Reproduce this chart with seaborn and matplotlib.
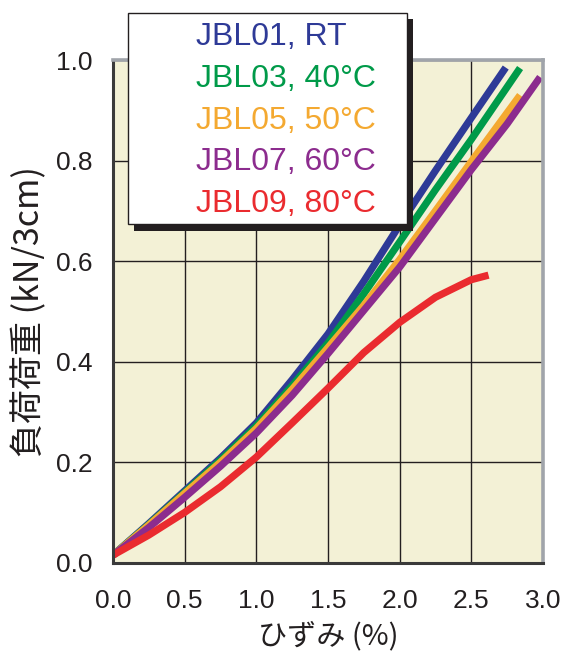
import matplotlib
matplotlib.use("Agg")
import matplotlib.pyplot as plt
from matplotlib.patches import Rectangle
import numpy as np
import pandas as pd
import seaborn as sns

# Load–strain curves for each specimen / test temperature
labels = ["JBL01, RT", "JBL03, 40°C", "JBL05, 50°C", "JBL07, 60°C", "JBL09, 80°C"]
colors = ["#2E3A97", "#009A49", "#F4A931", "#8C2C8E", "#EA2B2F"]

strain_01 = [0.0, 0.25, 0.5, 0.75, 1.0, 1.25, 1.5, 1.75, 2.0, 2.25, 2.5, 2.74]
load_01 = [0.015, 0.078, 0.143, 0.208, 0.278, 0.364, 0.455, 0.560, 0.672, 0.780, 0.885, 0.985]

strain_03 = [0.0, 0.25, 0.5, 0.75, 1.0, 1.25, 1.5, 1.75, 2.0, 2.25, 2.5, 2.84]
load_03 = [0.015, 0.076, 0.140, 0.204, 0.272, 0.352, 0.437, 0.535, 0.638, 0.742, 0.842, 0.984]

strain_05 = [0.0, 0.25, 0.5, 0.75, 1.0, 1.25, 1.5, 1.75, 2.0, 2.25, 2.5, 2.84]
load_05 = [0.015, 0.075, 0.138, 0.200, 0.267, 0.345, 0.428, 0.512, 0.603, 0.700, 0.798, 0.930]

strain_07 = [0.0, 0.25, 0.5, 0.75, 1.0, 1.25, 1.5, 1.75, 2.0, 2.25, 2.5, 2.75, 2.98]
load_07 = [0.015, 0.070, 0.130, 0.192, 0.258, 0.333, 0.416, 0.502, 0.588, 0.685, 0.782, 0.873, 0.966]

strain_09 = [0.0, 0.25, 0.5, 0.75, 1.0, 1.25, 1.5, 1.75, 2.0, 2.25, 2.5, 2.62]
load_09 = [0.015, 0.055, 0.100, 0.151, 0.210, 0.278, 0.347, 0.418, 0.478, 0.528, 0.563, 0.572]

x_ticks = [0.0, 0.5, 1.0, 1.5, 2.0, 2.5, 3.0]
y_ticks = [0.0, 0.2, 0.4, 0.6, 0.8, 1.0]
x_label = "ひずみ (%)"
y_label = "負荷荷重 (kN/3cm)"

series = [(strain_01, load_01), (strain_03, load_03), (strain_05, load_05),
          (strain_07, load_07), (strain_09, load_09)]
frames = []
for name, (xs, ys) in zip(labels, series):
    frames.append(pd.DataFrame({"strain": xs, "load": ys, "specimen": name}))
df = pd.concat(frames, ignore_index=True)

sns.set_theme(style="white")
plt.rcParams["font.family"] = ["Liberation Sans", "DejaVu Sans"]

fig = plt.figure(figsize=(5.62, 6.54), dpi=100)
ax = fig.add_axes([113 / 562, 1 - 562.7 / 654, 430 / 562, 502.7 / 654])
ax.set_facecolor("#F3F1D6")

sns.lineplot(data=df, x="strain", y="load", hue="specimen", hue_order=labels,
             palette=colors, sort=False, estimator=None, linewidth=5.2,
             legend=False, ax=ax)
for ln in ax.lines:
    ln.set_solid_capstyle("butt")
    ln.set_solid_joinstyle("round")

ax.set_xlim(0, 3.0)
ax.set_ylim(0, 1.0)
ax.set_xticks(x_ticks)
ax.set_yticks(y_ticks)
ax.set_xticklabels([f"{v:.1f}" for v in x_ticks])
ax.set_yticklabels([f"{v:.1f}" for v in y_ticks])
tick_font = ["Liberation Sans Narrow", "Liberation Sans", "DejaVu Sans"]
for t in ax.get_xticklabels() + ax.get_yticklabels():
    t.set_fontfamily(tick_font)
    t.set_fontsize(19)
    t.set_color("#231F20")
ax.tick_params(axis="x", length=0, pad=19)
ax.tick_params(axis="y", length=0, pad=15)

ax.grid(True, color="#231F20", linewidth=1.0)
ax.set_axisbelow(True)

for side in ("left", "bottom"):
    ax.spines[side].set_color("#3A3A3A")
    ax.spines[side].set_linewidth(2.2)
for side in ("top", "right"):
    ax.spines[side].set_color("#A0A4AA")
    ax.spines[side].set_linewidth(2.6)

cjk = ["Noto Sans CJK JP", "DejaVu Sans"]
ax.set_xlabel(x_label, fontsize=21, family=cjk, color="#231F20", labelpad=6)
ax.set_ylabel(y_label, fontsize=24.5, family=cjk, color="#231F20", labelpad=6)

# Legend panel with a solid drop shadow
bx0, by_top, bw, bh = 127.5, 12.5, 279, 211.5
shadow = Rectangle(((bx0 + 6.5) / 562, 1 - (by_top + bh + 6.5) / 654), bw / 562, bh / 654,
                   transform=fig.transFigure, facecolor="#231F20", edgecolor="none", zorder=5)
box = Rectangle((bx0 / 562, 1 - (by_top + bh) / 654), bw / 562, bh / 654,
                transform=fig.transFigure, facecolor="white", edgecolor="#231F20",
                linewidth=1.0, zorder=6)
fig.add_artist(shadow)
fig.add_artist(box)

leg = fig.legend(handles=ax.lines[:5], labels=labels, loc="upper left",
                 bbox_to_anchor=(196 / 562, 1 - 22 / 654), bbox_transform=fig.transFigure,
                 frameon=False, handlelength=0, handletextpad=0, borderpad=0,
                 borderaxespad=0, labelspacing=0.37, labelcolor="linecolor",
                 prop={"family": ["Liberation Sans", "DejaVu Sans"], "size": 23})
for h in leg.legend_handles:
    h.set_visible(False)
leg.set_zorder(7)

fig.savefig("out.png", dpi=100)
